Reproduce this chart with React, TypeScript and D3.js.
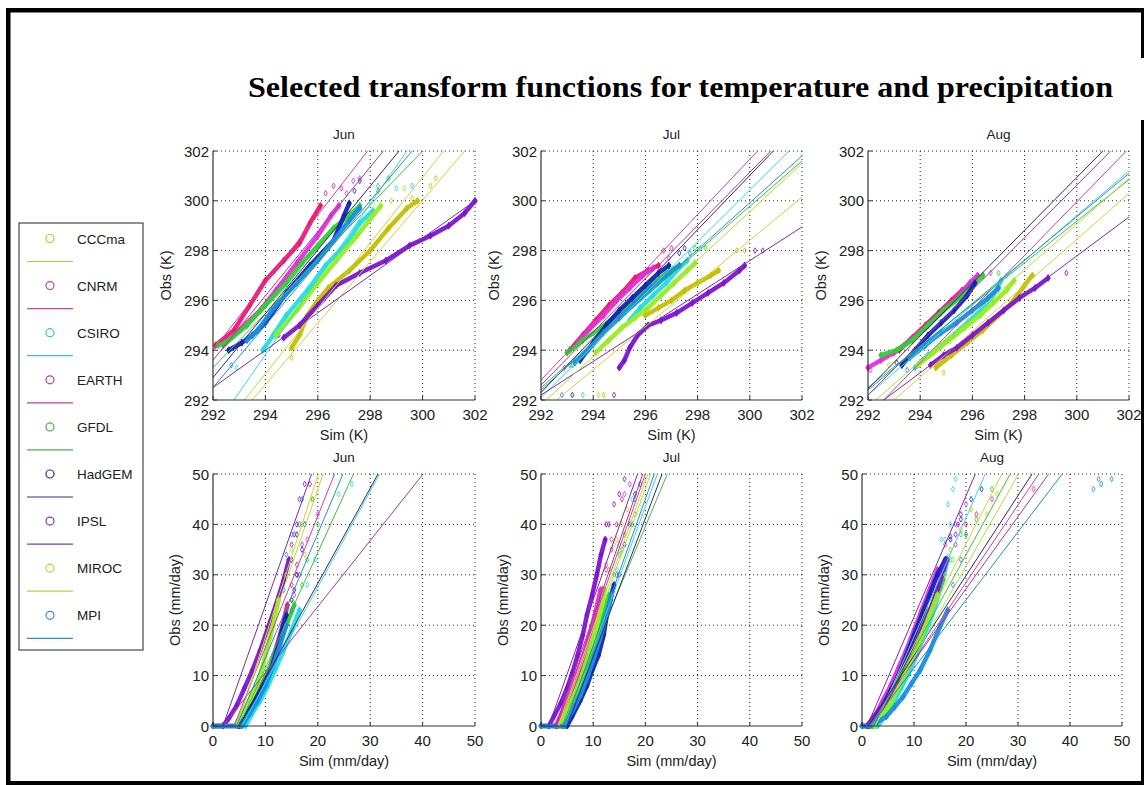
import React from "react";
import * as d3 from "d3";

type P = [number, number];
type L = [number, number, number, number];

const models = ["CCCma", "CNRM", "CSIRO", "EARTH", "GFDL", "HadGEM", "IPSL", "MIROC", "MPI"];
const pointColors = ["#c4c000", "#ea1a70", "#22dde6", "#e42ee0", "#2ed22e", "#1424b8", "#7e14d2", "#96ee1e", "#1a8ee2"];
const lineColors = ["#d6cf3c", "#d43cb0", "#3cd6e0", "#b23494", "#3cc43c", "#2a2a78", "#7a2ab4", "#b2e03a", "#2290c4"];
const legendColors = ["#c8c030", "#c840a8", "#30c8d8", "#b84098", "#40b840", "#303080", "#8040a8", "#b0d840", "#3090c8"];

const months = ["Jun", "Jul", "Aug"];
const tempTicks = [292, 294, 296, 298, 300, 302];
const precTicks = [0, 10, 20, 30, 40, 50];

// ---------- Temperature, quantile curves (sim, obs) in model order ----------
const tJunCurves: P[][] = [
  [[295.0, 294.1], [295.3, 294.6], [295.6, 295.4], [296.0, 296.0], [296.4, 296.5], [297.2, 297.2], [298.0, 298.0], [298.7, 298.9], [299.4, 299.7], [299.8, 300.0]],
  [[292.1, 294.2], [292.8, 294.8], [293.4, 295.8], [294.0, 296.8], [294.7, 297.6], [295.3, 298.3], [295.7, 299.1], [296.1, 299.8]],
  [[293.9, 294.0], [294.3, 294.6], [294.8, 295.4], [295.6, 296.4], [296.3, 297.4], [297.1, 298.3], [297.6, 299.1], [298.1, 299.6]],
  [[292.4, 294.2], [293.0, 294.8], [293.8, 295.6], [294.4, 296.4], [295.2, 297.5], [296.0, 298.6], [296.5, 299.4], [296.8, 299.8]],
  [[292.2, 294.2], [292.5, 294.3], [293.3, 295.0], [294.0, 295.8], [294.8, 296.7], [295.4, 297.5], [296.0, 298.2], [296.6, 298.9], [297.2, 299.4], [297.6, 299.8]],
  [[292.6, 294.0], [293.1, 294.3], [293.5, 294.6], [294.0, 295.1], [294.8, 296.3], [295.7, 297.4], [296.6, 298.4], [297.0, 299.4], [297.2, 299.9]],
  [[294.7, 294.5], [295.3, 295.0], [296.0, 295.8], [296.7, 296.6], [297.6, 297.1], [298.6, 297.6], [299.5, 298.2], [300.3, 298.6], [301.0, 299.0], [301.6, 299.5], [302.0, 300.0]],
  [[294.4, 294.6], [295.2, 295.6], [296.0, 296.7], [296.7, 297.6], [297.5, 298.6], [298.1, 299.4], [298.4, 299.8]],
  [[293.3, 294.4], [293.7, 294.8], [294.4, 295.8], [295.2, 296.7], [296.0, 297.6], [296.6, 298.4], [297.2, 299.2], [297.6, 299.7]],
];
const tJunScatter: P[][] = [
  [[295.0, 293.7], [300.3, 300.6], [300.5, 300.9], [299.6, 300.1]],
  [[296.3, 300.3], [296.6, 300.6], [296.9, 300.5]],
  [[299.0, 300.5], [299.6, 300.6], [292.9, 293.3]],
  [[297.35, 300.8], [297.6, 300.9], [297.1, 300.3]],
  [[298.7, 300.9], [298.3, 300.6]],
  [[297.6, 300.8], [297.4, 300.4]],
  [[294.5, 294.6]],
  [[298.8, 300.0], [299.3, 300.5]],
  [[298.3, 300.4], [292.7, 293.4]],
];
const tJunLines: L[] = [
  [293.5, 292, 301.6, 302], [292, 294.0, 297.9, 302], [292.8, 292, 299.4, 302], [292, 293.6, 298.5, 302],
  [292, 293.3, 300.0, 302], [292, 292.9, 299.1, 302], [292, 292.5, 302, 300.0], [293.2, 292, 300.8, 302],
  [292, 292.5, 299.6, 302],
];

const tJulCurves: P[][] = [
  [[296.0, 295.4], [296.5, 295.7], [297.0, 296.0], [297.5, 296.4], [298.0, 296.7], [298.5, 297.0], [298.8, 297.2]],
  [[293.1, 294.0], [293.6, 294.6], [294.1, 295.2], [294.6, 295.8], [295.1, 296.3], [295.6, 296.9], [296.1, 297.2], [296.5, 297.4]],
  [[295.4, 295.2], [295.8, 295.7], [296.3, 296.2], [296.8, 296.7], [297.2, 297.2], [297.6, 297.6]],
  [[293.4, 294.3], [293.9, 294.9], [294.4, 295.4], [294.9, 296.0], [295.4, 296.5], [295.9, 297.0], [296.3, 297.3]],
  [[293.0, 293.9], [293.6, 294.4], [294.3, 294.9], [295.0, 295.5], [295.6, 296.0], [296.2, 296.6], [296.8, 297.1], [297.3, 297.4]],
  [[293.5, 293.6], [294.0, 294.3], [294.5, 295.0], [295.0, 295.6], [295.5, 296.1], [296.0, 296.6], [296.5, 297.1], [296.9, 297.4]],
  [[295.0, 293.3], [295.2, 293.6], [295.4, 294.1], [295.7, 294.6], [296.1, 295.0], [296.6, 295.2], [297.2, 295.5], [297.8, 295.9], [298.4, 296.3], [299.0, 296.7], [299.6, 297.2], [299.8, 297.4]],
  [[294.1, 293.9], [294.6, 294.4], [295.1, 294.9], [295.6, 295.3], [296.1, 295.7], [296.6, 296.2], [297.1, 296.7], [297.6, 297.2], [297.9, 297.5]],
  [[293.3, 293.5], [293.8, 294.0], [294.4, 294.7], [295.0, 295.3], [295.6, 295.9], [296.2, 296.5], [296.8, 297.0], [297.3, 297.4]],
];
const tJulScatter: P[][] = [
  [[299.5, 298.0], [299.8, 298.0], [294.4, 292.2]],
  [[296.7, 298.0], [297.0, 298.1]],
  [[298.1, 298.1], [293.6, 292.2]],
  [[296.9, 297.7], [292.9, 293.3]],
  [[297.9, 298.1], [298.3, 298.1], [293.1, 293.4]],
  [[297.3, 297.9], [297.5, 298.1], [293.2, 292.2]],
  [[300.2, 298.0], [300.5, 298.0], [294.8, 292.2]],
  [[294.2, 292.2]],
  [[297.7, 297.9], [292.8, 292.2], [293.2, 293.4]],
];
const tJulLines: L[] = [
  [292.6, 292, 302, 300.15], [292, 292.8, 300.3, 302], [292, 292.1, 301.5, 302], [292, 292.6, 300.8, 302],
  [292, 292.5, 302, 301.6], [292, 292.3, 300.9, 302], [292, 292.2, 302, 298.95], [292.2, 292, 302, 301.5],
  [292, 292.4, 302, 301.8],
];

const tAugCurves: P[][] = [
  [[294.6, 293.3], [295.2, 293.8], [295.8, 294.3], [296.4, 294.8], [297.0, 295.4], [297.5, 295.9], [298.0, 296.6], [298.3, 297.0]],
  [[293.2, 294.0], [293.7, 294.5], [294.2, 295.0], [294.7, 295.5], [295.2, 296.0], [295.6, 296.4], [295.9, 296.6]],
  [[293.8, 293.3], [294.3, 293.8], [294.8, 294.2], [295.3, 294.6], [295.8, 295.1], [296.3, 295.6], [296.8, 296.2], [297.1, 296.8]],
  [[292.0, 293.3], [292.5, 293.6], [293.0, 293.9], [293.6, 294.4], [294.2, 294.9], [294.8, 295.5], [295.4, 296.1], [295.9, 296.7], [296.2, 297.0]],
  [[292.5, 293.8], [293.1, 294.0], [293.7, 294.4], [294.3, 295.0], [294.9, 295.6], [295.5, 296.1], [296.0, 296.6], [296.4, 297.0]],
  [[293.3, 293.4], [293.8, 294.0], [294.3, 294.6], [294.8, 295.1], [295.3, 295.6], [295.8, 296.2], [296.1, 296.7]],
  [[294.4, 293.4], [294.9, 293.8], [295.4, 294.1], [296.0, 294.6], [296.6, 295.1], [297.2, 295.6], [297.8, 296.1], [298.4, 296.5], [298.9, 296.9]],
  [[293.9, 293.4], [294.5, 293.9], [295.1, 294.4], [295.7, 294.9], [296.3, 295.4], [296.8, 295.9], [297.3, 296.4], [297.6, 296.8]],
  [[293.6, 293.7], [294.2, 294.2], [294.8, 294.7], [295.4, 295.1], [296.0, 295.6], [296.6, 296.1], [297.0, 296.5]],
];
const tAugScatter: P[][] = [
  [[294.9, 293.1]],
  [[296.4, 297.0]],
  [[297.3, 297.0]],
  [[296.7, 297.1], [292.1, 293.2]],
  [[297.0, 297.1]],
  [[293.1, 293.5]],
  [[299.6, 297.1], [294.1, 293.6]],
  [[292.8, 293.4]],
  [[293.5, 293.2]],
];
const tAugLines: L[] = [
  [293.0, 292, 302, 300.3], [292.6, 292, 301.9, 302], [292, 292.2, 302, 301.2], [292, 292.2, 301.3, 302],
  [292, 292.5, 302, 300.85], [292, 292.45, 301.0, 302], [292.6, 292, 302, 299.35], [292.3, 292, 302, 300.9],
  [292, 292.4, 302, 301.1],
];

// ---------- Precipitation, quantile curves (sim, obs) in model order ----------
const pJunCurves: P[][] = [
  [[5.5, 0], [7, 2.5], [8.5, 5], [10, 8.5], [11.3, 12], [12.5, 16], [13.5, 20]],
  [[4.8, 0], [6.5, 2.5], [8, 5], [9.5, 8.5], [11, 12], [12.2, 16], [13.3, 20], [14.2, 24]],
  [[6.2, 0], [7.5, 2.5], [9, 5], [10.5, 8], [12, 11.5], [13.5, 15], [15, 19], [16.5, 23]],
  [[5, 0], [6.8, 3], [8.5, 6], [10, 9.5], [11.5, 13], [12.8, 17], [14, 21]],
  [[5, 0], [6.5, 2.5], [8, 5], [9.5, 8.5], [11, 12], [12.5, 16], [14, 20], [15.5, 24]],
  [[0, 0], [5, 0], [6.5, 2.5], [8, 5], [9.5, 8], [11, 11], [12.2, 15], [13.2, 19], [14, 22]],
  [[0, 0], [1.9, 0], [3, 1.5], [4.5, 4], [6, 7.5], [7.5, 11], [9, 15], [10.5, 19.5], [12, 24], [13.5, 29], [14.5, 33]],
  [[4.2, 0], [5.5, 2.5], [7, 5], [8.5, 8.5], [9.5, 12], [10.5, 16], [11.5, 20], [12.5, 25]],
  [[0, 0], [5.5, 0], [7, 2.5], [8.5, 5], [10, 8], [11.5, 12], [12.8, 16], [14, 20]],
];
const pJunScatter: P[][] = [
  [[15, 25], [16, 30], [17.5, 34], [19, 45]],
  [[15, 28], [16, 32], [17, 36], [19, 45], [18.5, 48]],
  [[18, 28], [19.5, 33], [24, 46], [26.5, 48]],
  [[15.5, 26], [16.5, 30], [18, 37], [20, 42]],
  [[17, 28], [18, 33], [20, 40], [19, 45]],
  [[15, 25], [15.5, 27], [16, 30], [15, 33], [17, 35], [16, 38], [17.5, 40]],
  [[15, 36], [16, 40], [16.5, 45], [17.5, 48], [15.5, 38]],
  [[14, 30], [15, 35], [17, 40], [19, 45]],
  [[15, 23], [13.5, 27], [14, 34], [15, 38], [16.5, 40], [17, 45]],
];
const pJunLines: L[] = [
  [4.5, 0, 20.1, 50], [4, 0, 23.2, 50], [5.5, 0, 31.8, 50], [1.9, 0, 40.1, 50],
  [5, 0, 26.8, 50], [5, 0, 31.5, 50], [1.9, 0, 18.8, 50], [4.5, 0, 21, 50],
  [4.5, 0, 24.8, 50],
];

const pJulCurves: P[][] = [
  [[3.3, 0], [4.8, 3], [6.3, 6.5], [7.7, 10.5], [8.9, 14.5], [10, 18.5], [11, 22.5], [12, 27]],
  [[3, 0], [4.5, 3], [6, 6.5], [7.5, 10.5], [8.8, 14.5], [9.8, 18.5], [10.8, 22.5], [11.8, 27]],
  [[4.5, 0], [6, 3], [7.5, 6.5], [9, 10.5], [10.3, 14.5], [11.4, 18.5], [12.4, 22.5]],
  [[2.8, 0], [4.2, 3], [5.6, 6.5], [7, 10.5], [8.3, 14.5], [9.4, 18.5], [10.4, 22.5], [11.4, 27]],
  [[4, 0], [5.5, 3], [7, 6], [8.5, 10], [9.8, 14], [11, 18], [12, 22], [13, 26]],
  [[0, 0], [5, 0], [6, 2], [7.5, 5], [8.8, 8], [9.8, 11], [11, 14], [12, 18], [12.6, 22], [13.3, 25], [14, 28]],
  [[1.5, 0], [2.5, 2], [3.8, 4.5], [5, 7.5], [6, 10.5], [7, 14], [8, 18], [8.8, 22], [9.8, 26], [10.7, 30], [11.5, 34], [12.3, 37]],
  [[3.5, 0], [5, 3], [6.5, 6.5], [8, 10.5], [9.2, 14.5], [10.3, 18.5], [11.3, 22.5], [12.2, 27]],
  [[0, 0], [4.5, 0], [6, 3], [7.5, 6], [9, 10], [10.3, 14], [11.5, 18], [12.5, 22], [13.5, 26]],
];
const pJulScatter: P[][] = [
  [[13, 31], [14.5, 37], [16.5, 43]],
  [[12.5, 31], [13.5, 35], [14.5, 40], [15.5, 45]],
  [[13.5, 27], [14.5, 31], [15, 36], [17.5, 45]],
  [[12.5, 32], [13.5, 37], [16, 46], [17, 48]],
  [[14, 30], [15, 34], [16, 38], [18, 42]],
  [[15, 30], [16, 36], [17, 40], [18, 46], [19, 48]],
  [[13, 40], [14, 44], [15, 46], [16, 49], [12.5, 40]],
  [[13, 31], [14, 36], [15.5, 40]],
  [[14.5, 30], [15.5, 35], [17.5, 40], [18, 45]],
];
const pJulLines: L[] = [
  [3.3, 0, 20.5, 50], [3, 0, 20, 50], [4.5, 0, 22.3, 50], [2.8, 0, 19.5, 50],
  [4, 0, 24.2, 50], [5, 0, 23.2, 50], [1.5, 0, 18.5, 50], [3.5, 0, 21, 50],
  [4.5, 0, 21.7, 50],
];

const pAugCurves: P[][] = [
  [[2, 0], [3.5, 2.5], [5, 5], [6.5, 8], [8, 11.5], [9.5, 15], [11, 19], [12.5, 23]],
  [[1.5, 0], [3, 2], [4.5, 5], [6, 8], [7.5, 11.5], [9, 15], [10.5, 19], [12, 23]],
  [[3, 0], [4.5, 2], [6, 4.5], [7.5, 7.5], [9, 10.5], [10.5, 14], [12, 18], [13.5, 22], [15, 27], [16.5, 33]],
  [[1, 0], [2.5, 2], [4, 5], [5.5, 8], [7, 11.5], [8.5, 15], [10, 19], [11.5, 23], [13, 27], [14.5, 31]],
  [[2, 0], [3.5, 2], [5, 4.5], [6.5, 7.5], [8, 11], [9.5, 14.5], [11, 18], [12.5, 22], [14, 25], [15.6, 29]],
  [[0, 0], [1.2, 0], [2.5, 1.5], [4, 4], [5.5, 7], [7, 10], [8.5, 14], [10, 18], [11.5, 22], [13, 26], [14.5, 30], [16, 33]],
  [[0, 0], [1, 0], [2, 1.5], [3.5, 3.5], [4.7, 4.5], [7.3, 8.5], [9.2, 13.8], [11.2, 18.4], [13.1, 23], [14.7, 27.7], [16.3, 33]],
  [[2.5, 0], [4, 2], [5.5, 4.5], [7, 7.5], [8.5, 11], [10, 14.5], [11.5, 18], [13, 22], [14.5, 26]],
  [[0, 0], [1.5, 0], [3, 0.8], [4.7, 1.9], [6.3, 3.8], [7.9, 5.8], [9.5, 8.4], [11.2, 11.1], [13.1, 15.1], [15, 19.7], [16.5, 23]],
];
const pAugScatter: P[][] = [
  [[14, 27], [15.5, 31], [17, 35], [19, 39], [21, 43]],
  [[13.5, 27], [16, 31], [18, 36], [20, 40], [22, 42]],
  [[16, 37], [17, 40], [16.5, 44], [17.5, 47], [18, 49], [15.3, 37], [16.5, 33.6]],
  [[16, 36], [18, 40], [20, 44], [25, 45], [33, 47]],
  [[15.5, 30], [17, 33], [19, 38], [22, 41], [25, 47]],
  [[17, 37], [19, 41], [21, 45], [23, 47]],
  [[17, 37.6], [18, 38], [18.5, 40], [19, 42]],
  [[16, 30], [17.5, 33], [20, 38], [24, 42], [26, 46]],
  [[17.5, 28], [19, 33], [20, 38], [44.5, 47], [45.5, 49], [48, 49], [46, 48]],
];
const pAugLines: L[] = [
  [2, 0, 26.9, 50], [1.5, 0, 34, 50], [2.5, 0, 23.7, 50], [1, 0, 35.9, 50],
  [2, 0, 28.5, 50], [1.2, 0, 32.7, 50], [1, 0, 21.8, 50], [2.5, 0, 30.1, 50],
  [1.5, 0, 38.5, 50],
];

// ---------- layout ----------
const boxes = [
  { x: 213, y: 151, w: 262, h: 249 },
  { x: 541, y: 151, w: 261, h: 249 },
  { x: 868, y: 151, w: 261, h: 249 },
  { x: 213, y: 474, w: 262, h: 252 },
  { x: 541, y: 474, w: 261, h: 252 },
  { x: 862, y: 474, w: 260, h: 252 },
];

const panels = [
  { curves: tJunCurves, scatter: tJunScatter, lines: tJunLines, ticks: tempTicks, month: months[0], xl: "Sim (K)", yl: "Obs (K)" },
  { curves: tJulCurves, scatter: tJulScatter, lines: tJulLines, ticks: tempTicks, month: months[1], xl: "Sim (K)", yl: "Obs (K)" },
  { curves: tAugCurves, scatter: tAugScatter, lines: tAugLines, ticks: tempTicks, month: months[2], xl: "Sim (K)", yl: "Obs (K)" },
  { curves: pJunCurves, scatter: pJunScatter, lines: pJunLines, ticks: precTicks, month: months[0], xl: "Sim (mm/day)", yl: "Obs (mm/day)" },
  { curves: pJulCurves, scatter: pJulScatter, lines: pJulLines, ticks: precTicks, month: months[1], xl: "Sim (mm/day)", yl: "Obs (mm/day)" },
  { curves: pAugCurves, scatter: pAugScatter, lines: pAugLines, ticks: precTicks, month: months[2], xl: "Sim (mm/day)", yl: "Obs (mm/day)" },
];

const SANS = "'Liberation Sans', Arial, sans-serif";
const diamond = d3.symbol().type(d3.symbolDiamond);

function Panel({ idx }: { idx: number }) {
  const p = panels[idx];
  const b = boxes[idx];
  const dom = d3.extent(p.ticks) as [number, number];
  const x = d3.scaleLinear().domain(dom).range([b.x, b.x + b.w]);
  const y = d3.scaleLinear().domain(dom).range([b.y + b.h, b.y]);
  const line = d3.line<P>().x((d) => x(d[0])).y((d) => y(d[1]));
  const clipId = `clip${idx}`;
  const isTemp = idx < 3;
  return (
    <g>
      <defs>
        <clipPath id={clipId}>
          <rect x={b.x - 3} y={b.y - 3} width={b.w + 6} height={b.h + 6} />
        </clipPath>
      </defs>
      {p.ticks.slice(1).map((t) => (
        <line key={"gx" + t} x1={x(t)} x2={x(t)} y1={b.y} y2={b.y + b.h} stroke="#222" strokeWidth={1} strokeDasharray="1,3" />
      ))}
      {p.ticks.slice(1).map((t) => (
        <line key={"gy" + t} x1={b.x} x2={b.x + b.w} y1={y(t)} y2={y(t)} stroke="#222" strokeWidth={1} strokeDasharray="1,3" />
      ))}
      <g clipPath={`url(#${clipId})`}>
        {models.map((m, i) => (
          <g key={m}>
            <path d={line(p.curves[i]) || ""} fill="none" stroke={pointColors[i]} strokeWidth={4.5} strokeLinejoin="round" strokeLinecap="round" opacity={0.95} />
            {p.curves[i].map((d, k) => (
              <path key={"c" + k} d={diamond.size(14)() || ""} transform={`translate(${x(d[0])},${y(d[1])})`} fill={pointColors[i]} stroke={pointColors[i]} strokeWidth={0.8} />
            ))}
            {p.scatter[i].map((d, k) => (
              <path key={"s" + k} d={diamond.size(9)() || ""} transform={`translate(${x(d[0])},${y(d[1])})`} fill="none" stroke={pointColors[i]} strokeWidth={1} opacity={0.8} />
            ))}
          </g>
        ))}
        {models.map((m, i) => {
          const l = p.lines[i];
          return <line key={"l" + m} x1={x(l[0])} y1={y(l[1])} x2={x(l[2])} y2={y(l[3])} stroke={lineColors[i]} strokeWidth={1} />;
        })}
      </g>
      <line x1={b.x} x2={b.x} y1={b.y} y2={b.y + b.h} stroke="#333" strokeWidth={1.2} />
      <line x1={b.x} x2={b.x + b.w} y1={b.y + b.h} y2={b.y + b.h} stroke="#333" strokeWidth={1.2} />
      {p.ticks.map((t) => (
        <g key={"tk" + t}>
          <line x1={x(t)} x2={x(t)} y1={b.y + b.h} y2={b.y + b.h - 4} stroke="#333" />
          <line x1={b.x} x2={b.x + 4} y1={y(t)} y2={y(t)} stroke="#333" />
          <text x={x(t)} y={b.y + b.h + 20} textAnchor="middle" fontFamily={SANS} fontSize={15} fill="#222">{t}</text>
          <text x={b.x - 4} y={y(t) + 5.5} textAnchor="end" fontFamily={SANS} fontSize={15} fill="#222">{t}</text>
        </g>
      ))}
      <text x={b.x + b.w / 2} y={b.y - 12} textAnchor="middle" fontFamily={SANS} fontSize={13.5} fill="#222">{p.month}</text>
      <text x={b.x + b.w / 2} y={b.y + b.h + 40} textAnchor="middle" fontFamily={SANS} fontSize={14.5} fill="#222">{p.xl}</text>
      <text transform={`translate(${b.x - (isTemp ? 42 : 33)},${b.y + b.h / 2}) rotate(-90)`} textAnchor="middle" fontFamily={SANS} fontSize={14.5} fill="#222">{p.yl}</text>
    </g>
  );
}

function Legend() {
  const lx = 19, ly = 223, lw = 124, lh = 427, step = 47.1;
  return (
    <g>
      <rect x={lx} y={ly} width={lw} height={lh} fill="#fff" stroke="#222" strokeWidth={1} />
      {models.map((m, i) => {
        const cy = ly + 15.5 + i * step;
        return (
          <g key={m}>
            <circle cx={50} cy={cy} r={4} fill="none" stroke={legendColors[i]} strokeWidth={1.2} />
            <text x={77} y={cy + 5} fontFamily={SANS} fontSize={13.5} fill="#222">{m}</text>
            <line x1={27} x2={73} y1={cy + 23} y2={cy + 23} stroke={legendColors[i]} strokeWidth={1.2} />
          </g>
        );
      })}
    </g>
  );
}

export default function App() {
  return (
    <svg width={1144} height={785} style={{ position: "absolute", left: 0, top: 0, background: "#fff" }}>
      <rect x={0} y={0} width={1144} height={785} fill="#fff" />
      <rect x={6} y={8} width={1138} height={4.5} fill="#000" />
      <rect x={6} y={8} width={4.5} height={777} fill="#000" />
      <rect x={6} y={781} width={1138} height={4} fill="#000" />
      <rect x={1141} y={8} width={3} height={50} fill="#000" />
      <rect x={1141} y={120} width={3} height={665} fill="#000" />
      <text x={248} y={97} textLength={865} lengthAdjust="spacingAndGlyphs" fontFamily="'Liberation Serif', 'Times New Roman', serif" fontWeight="bold" fontSize={30} fill="#000">
        Selected transform functions for temperature and precipitation
      </text>
      {panels.map((_, i) => (
        <Panel key={i} idx={i} />
      ))}
      <Legend />
    </svg>
  );
}
